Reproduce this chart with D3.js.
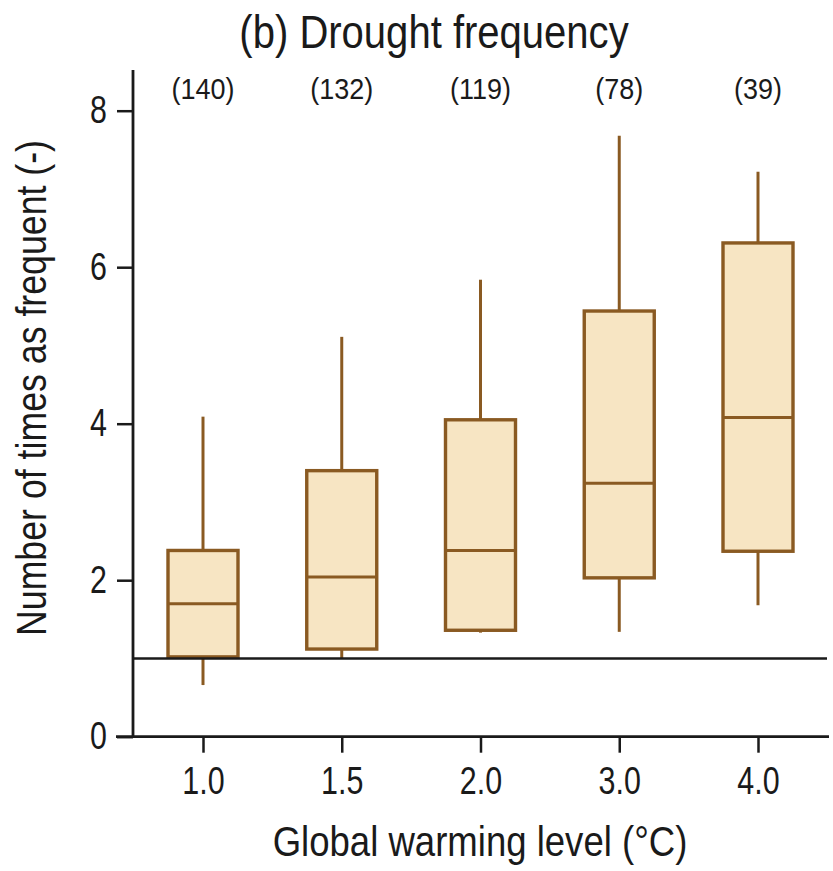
<!DOCTYPE html>
<html>
<head>
<meta charset="utf-8">
<script src="https://cdn.jsdelivr.net/npm/d3@7"></script>
<style>
  html, body { margin: 0; padding: 0; background: #fff; }
  svg text { font-family: "Liberation Sans", Arial, sans-serif; fill: #1a1a1a; }
</style>
</head>
<body>
<svg id="chart" width="833" height="871"></svg>
<script>
const categories = ["1.0", "1.5", "2.0", "3.0", "4.0"];
const counts = [140, 132, 119, 78, 39];
const whiskerLow = [0.66, 1.00, 1.33, 1.34, 1.68];
const q1 = [1.02, 1.12, 1.36, 2.03, 2.37];
const median = [1.70, 2.04, 2.38, 3.24, 4.08];
const q3 = [2.38, 3.40, 4.05, 5.44, 6.31];
const whiskerHigh = [4.09, 5.11, 5.84, 7.68, 7.22];
const yTicks = [0, 2, 4, 6, 8];
const referenceValue = 1;

const titleText = "(b) Drought frequency";
const xTitle = "Global warming level (°C)";
const yTitle = "Number of times as frequent (-)";

const svg = d3.select("#chart");
const boxColor = "#8a5a22";
const fillColor = "#f7e5c3";

// condense text horizontally (the original uses a narrow typeface)
function narrow(sel, f) {
  sel.each(function () {
    const w = this.getComputedTextLength();
    this.setAttribute("textLength", (w * f).toFixed(1));
    this.setAttribute("lengthAdjust", "spacingAndGlyphs");
  });
}

const x = d3.scalePoint().domain(categories).range([203, 758]);
const y = d3.scaleLinear().domain([0, 8]).range([736.7, 110.7]);
const boxW = 70;

const data = categories.map((c, i) => ({
  cat: c, n: counts[i], lo: whiskerLow[i], q1: q1[i], med: median[i], q3: q3[i], hi: whiskerHigh[i]
}));

// Title
svg.append("text")
  .attr("x", 434).attr("y", 48)
  .attr("text-anchor", "middle")
  .attr("font-size", 46)
  .text(titleText)
  .call(narrow, 0.87);

// Y axis
const yAxis = d3.axisLeft(y).tickValues(yTicks).tickSize(16).tickPadding(10).tickFormat(d3.format("d"));
const gy = svg.append("g").attr("transform", "translate(133,0)").call(yAxis);
gy.select(".domain").remove();
gy.selectAll(".tick line").attr("stroke", "#1a1a1a").attr("stroke-width", 2.5);
gy.selectAll(".tick text").attr("font-size", 38).attr("fill", "#1a1a1a").call(narrow, 0.8);
svg.append("line")
  .attr("x1", 133).attr("x2", 133)
  .attr("y1", 70).attr("y2", y(0))
  .attr("stroke", "#1a1a1a").attr("stroke-width", 2.8);

// X axis
const xAxis = d3.axisBottom(x).tickSize(16).tickPadding(14);
const gx = svg.append("g").attr("transform", `translate(0,${y(0)})`).call(xAxis);
gx.select(".domain").remove();
gx.selectAll(".tick line").attr("stroke", "#1a1a1a").attr("stroke-width", 2.5);
gx.selectAll(".tick text").attr("font-size", 38).attr("fill", "#1a1a1a").call(narrow, 0.8);
svg.append("line")
  .attr("x1", 116).attr("x2", 829)
  .attr("y1", y(0)).attr("y2", y(0))
  .attr("stroke", "#1a1a1a").attr("stroke-width", 2.8);

// Axis titles
svg.append("text")
  .attr("x", 480).attr("y", 856)
  .attr("text-anchor", "middle")
  .attr("font-size", 42)
  .text(xTitle)
  .call(narrow, 0.87);
svg.append("text")
  .attr("transform", `translate(46,${388}) rotate(-90)`)
  .attr("text-anchor", "middle")
  .attr("font-size", 42)
  .text(yTitle)
  .call(narrow, 0.85);

// Boxes
const g = svg.append("g");
const box = g.selectAll("g.box").data(data).join("g").attr("class", "box");

box.append("line")
  .attr("x1", d => x(d.cat)).attr("x2", d => x(d.cat))
  .attr("y1", d => y(d.hi)).attr("y2", d => y(d.q3))
  .attr("stroke", boxColor).attr("stroke-width", 3);
box.append("line")
  .attr("x1", d => x(d.cat)).attr("x2", d => x(d.cat))
  .attr("y1", d => y(d.q1)).attr("y2", d => y(d.lo))
  .attr("stroke", boxColor).attr("stroke-width", 3);
box.append("rect")
  .attr("x", d => x(d.cat) - boxW / 2)
  .attr("width", boxW)
  .attr("y", d => y(d.q3))
  .attr("height", d => y(d.q1) - y(d.q3))
  .attr("fill", fillColor)
  .attr("stroke", boxColor).attr("stroke-width", 3.4);
box.append("line")
  .attr("x1", d => x(d.cat) - boxW / 2).attr("x2", d => x(d.cat) + boxW / 2)
  .attr("y1", d => y(d.med)).attr("y2", d => y(d.med))
  .attr("stroke", boxColor).attr("stroke-width", 3);

// Reference line at 1
svg.append("line")
  .attr("x1", 133).attr("x2", 827)
  .attr("y1", y(referenceValue)).attr("y2", y(referenceValue))
  .attr("stroke", "#1a1a1a").attr("stroke-width", 2.5);

// Counts
svg.selectAll("text.count").data(data).join("text")
  .attr("class", "count")
  .attr("x", d => x(d.cat))
  .attr("y", 99)
  .attr("text-anchor", "middle")
  .attr("font-size", 30)
  .text(d => `(${d.n})`)
  .call(narrow, 0.9);
</script>
</body>
</html>
